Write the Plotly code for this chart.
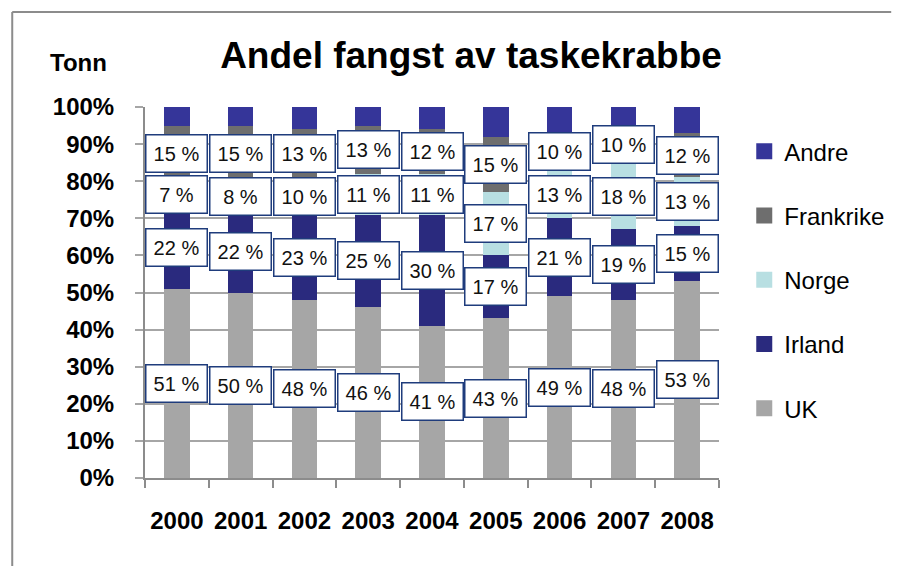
import plotly.graph_objects as go

years = ["2000", "2001", "2002", "2003", "2004", "2005", "2006", "2007", "2008"]
uk = [51, 50, 48, 46, 41, 43, 49, 48, 53]
irland = [22, 22, 23, 25, 30, 17, 21, 19, 15]
norge = [7, 8, 10, 11, 11, 17, 13, 18, 13]
frankrike = [15, 15, 13, 13, 12, 15, 10, 10, 12]
andre = [5, 5, 6, 5, 6, 8, 7, 5, 7]
y_ticks = list(range(0, 101, 10))
y_tick_labels = [f"{v}%" for v in y_ticks]

series = [
    ("UK", uk, "#a6a6a6", True),
    ("Irland", irland, "#2a2a7e", True),
    ("Norge", norge, "#b8dfe2", True),
    ("Frankrike", frankrike, "#6e6e6e", True),
    ("Andre", andre, "#353599", False),
]

FONT = "Liberation Sans, Arial, sans-serif"

fig = go.Figure()
for name, vals, color, _ in series:
    fig.add_trace(go.Bar(
        x=years, y=vals, name=name, legendgroup=name, showlegend=False,
        marker=dict(color=color, line=dict(width=0)),
    ))

# legend entries (square swatches), top to bottom: Andre ... UK
for name, vals, color, _ in reversed(series):
    fig.add_trace(go.Scatter(
        x=[None], y=[None], mode="markers", name=name, legendgroup=name,
        marker=dict(symbol="square", size=16, color=color, line=dict(width=0)),
        hoverinfo="skip",
    ))

# data labels at segment centres (x given as category index)
annotations = []
base = [0] * len(years)
for name, vals, color, labelled in series:
    for i, v in enumerate(vals):
        if labelled:
            annotations.append(dict(
                x=i, y=base[i] + v / 2, xref="x", yref="y",
                text=f"{v} %", showarrow=False,
                font=dict(family=FONT, size=20, color="#111111"),
                bgcolor="white", bordercolor="#1f3c7c", borderwidth=1.5,
                borderpad=2, width=56, height=32,
            ))
        base[i] += v

annotations.append(dict(
    x=-0.116, y=1.121, xref="paper", yref="paper", text="<b>Tonn</b>",
    showarrow=False, xanchor="center", yanchor="middle",
    font=dict(family=FONT, size=24, color="black"),
))

# the page places the figure 8px from the window's top-left corner
fig.update_layout(
    width=894, height=558,
    margin=dict(l=137, r=169, t=99, b=88),
    paper_bgcolor="white", plot_bgcolor="white",
    barmode="stack", bargap=0.6,
    title=dict(text="<b>Andel fangst av taskekrabbe</b>", x=463 / 894, xanchor="center",
               y=1 - 47 / 558, yanchor="middle",
               font=dict(family=FONT, size=37, color="black")),
    font=dict(family=FONT, color="black"),
    showlegend=True,
    legend=dict(
        x=1.044, xanchor="left", y=0.94, yanchor="top",
        traceorder="grouped", tracegroupgap=30, itemsizing="trace",
        font=dict(family=FONT, size=24, color="black"),
        bgcolor="rgba(0,0,0,0)",
    ),
    annotations=annotations,
    shapes=[
        dict(type="line", xref="paper", yref="paper", x0=-0.2313, x1=-0.2313,
             y0=1.256, y1=-0.24, line=dict(color="#8c8c8c", width=2)),
        dict(type="line", xref="paper", yref="paper", x0=-0.2313, x1=1.3,
             y0=1.256, y1=1.256, line=dict(color="#8c8c8c", width=2)),
    ],
)

fig.update_xaxes(
    type="category", range=[-0.5, len(years) - 0.5], autorange=False,
    tickson="boundaries", ticks="outside", ticklen=8,
    tickcolor="#8c8c8c", tickwidth=2, showline=True, linecolor="#8c8c8c", linewidth=2,
    showgrid=False, ticklabelstandoff=20, tickangle=0,
    tickfont=dict(family=FONT, size=24, color="black", weight="bold"),
)
fig.update_yaxes(
    range=[0, 100], autorange=False, tickmode="array", tickvals=y_ticks, ticktext=y_tick_labels,
    ticks="outside", ticklen=8, tickcolor="#a6a6a6", tickwidth=2,
    showline=True, linecolor="#8c8c8c", linewidth=2,
    showgrid=True, gridcolor="#a6a6a6", gridwidth=2, zeroline=False,
    ticklabelstandoff=16,
    tickfont=dict(family=FONT, size=24, color="black", weight="bold"),
)

fig.write_html("out.html")
